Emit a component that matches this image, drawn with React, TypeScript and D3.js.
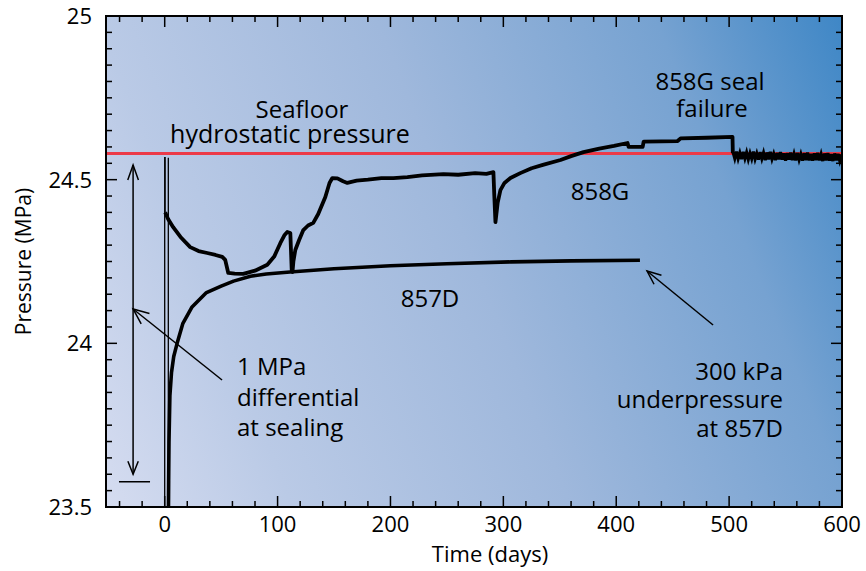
import * as d3 from 'd3'

// axis ticks
const xMajor = [0, 100, 200, 300, 400, 500, 600]
const yMajor = [23.5, 24, 24.5, 25]
const yLabels = ['23.5', '24', '24.5', '25']

const hydrostatic = 24.58

// 858G: thin initial spike, then recovery record [day, MPa]
const g858Spike: [number, number][] = [[0, 23.5], [0, 24.567], [0.4, 24.567], [0.4, 24.4]]
const g858: [number, number][] = [
  [0.4, 24.4], [3, 24.38], [7.5, 24.355], [14, 24.325], [22.6, 24.294], [30, 24.282], [37.7, 24.276],
  [45, 24.27], [51, 24.264], [53.6, 24.255], [56.3, 24.215], [62, 24.213], [69.6, 24.212], [80, 24.222],
  [90.9, 24.24], [97, 24.265], [102.4, 24.306], [106, 24.33], [108.6, 24.34], [111.3, 24.337],
  [112.5, 24.225], [113.2, 24.218], [114, 24.25], [115.7, 24.285], [119, 24.315], [122.8, 24.346],
  [127, 24.36], [131.6, 24.368], [136, 24.395], [142.3, 24.447], [146, 24.49], [148.5, 24.505],
  [153, 24.504], [158, 24.495], [161.8, 24.49], [170, 24.497], [180, 24.5], [192, 24.505],
  [202.6, 24.505], [215, 24.508], [228, 24.513], [246.9, 24.517], [260, 24.515], [275, 24.52],
  [285, 24.518], [291.2, 24.523], [292, 24.45], [293, 24.37], [295, 24.43], [297.4, 24.468],
  [301, 24.49], [306.3, 24.505], [315, 24.52], [325, 24.535], [335, 24.545], [350.6, 24.56],
  [360, 24.572], [371, 24.584], [385, 24.595], [398, 24.603], [410, 24.612], [411, 24.6],
  [423.4, 24.6], [424.3, 24.616], [440, 24.617], [454.4, 24.618], [457, 24.626], [480, 24.628],
  [503, 24.631], [503.3, 24.581],
]
// after seal failure: noisy record around hydrostatic
const g858Fail: [number, number][] = [
  [503.5, 24.584], [505, 24.565], [506.5, 24.586], [508, 24.564], [509.5, 24.582], [511, 24.563],
  [512.5, 24.585], [514, 24.565], [515.5, 24.583], [517, 24.562], [518.5, 24.581], [520, 24.564],
  [521.5, 24.586], [523, 24.563], [524.5, 24.58], [526, 24.561], [527.5, 24.584], [529, 24.564],
  [530.5, 24.582], [532, 24.56], [533.5, 24.583], [535, 24.562], [536.5, 24.585], [538, 24.563],
  [539.5, 24.579], [541, 24.56], [542.5, 24.582], [544, 24.562], [545.5, 24.584], [547, 24.561],
  [548.5, 24.58], [550, 24.558], [551.5, 24.581], [553, 24.561], [554.5, 24.583], [556, 24.56],
  [557.5, 24.579], [559, 24.559], [560.5, 24.582], [562, 24.561], [563.5, 24.578], [565, 24.558],
  [566.5, 24.581], [568, 24.56], [569.5, 24.583], [571, 24.559], [572.5, 24.579], [574, 24.558],
  [575.5, 24.58], [577, 24.56], [578.5, 24.582], [580, 24.559], [581.5, 24.578], [583, 24.557],
  [584.5, 24.58], [586, 24.559], [587.5, 24.581], [589, 24.558], [590.5, 24.578], [592, 24.557],
  [593.5, 24.58], [595, 24.559], [596.5, 24.579], [598, 24.558], [599.5, 24.577],
]

// 857D
const d857Spike: [number, number][] = [[3.2, 24.567], [3.2, 23.5]]
const d857: [number, number][] = [
  [3.3, 23.47], [3.5, 23.58], [3.8, 23.7], [4.6, 23.84], [6, 23.91], [8, 23.96], [11, 24.0],
  [16, 24.06], [24, 24.11], [37, 24.155], [50, 24.175], [61, 24.19], [76, 24.205], [90, 24.212],
  [111, 24.218], [150, 24.228], [200, 24.237], [250, 24.243], [307, 24.249], [360, 24.252], [421, 24.254],
]

const W = 866
const H = 571
const margin = { top: 16, right: 24, bottom: 64, left: 106 }
const FONT = '"Open Sans", "DejaVu Sans", sans-serif'

function head(tip: [number, number], from: [number, number], len = 15, ang = 0.38) {
  const a = Math.atan2(from[1] - tip[1], from[0] - tip[0])
  const p1 = [tip[0] + len * Math.cos(a + ang), tip[1] + len * Math.sin(a + ang)]
  const p2 = [tip[0] + len * Math.cos(a - ang), tip[1] + len * Math.sin(a - ang)]
  return `M${p1[0]},${p1[1]}L${tip[0]},${tip[1]}L${p2[0]},${p2[1]}`
}

export default function App() {
  const x = d3.scaleLinear().domain([-52, 600]).range([margin.left, W - margin.right])
  const y = d3.scaleLinear().domain([23.5, 25]).range([H - margin.bottom, margin.top])
  const [x0, x1] = x.range()
  const [y0, y1] = [y(25), y(23.5)]

  const line = d3.line<[number, number]>().x(d => x(d[0])).y(d => y(d[1]))

  const xMinor = d3.range(-40, 601, 20).filter(v => v % 100 !== 0)
  const yMinor = d3.range(0, 31).map(i => 23.5 + i * 0.05).filter((_, i) => i % 10 !== 0)

  // annotation anchors in data space
  const diffTop: [number, number] = [x(-28), y(24.545)]
  const diffBot: [number, number] = [x(-28), y(23.6)]
  const leftFrom: [number, number] = [x(50.8), y(23.888)]
  const leftTip: [number, number] = [x(-28), y(24.105)]
  const rightFrom: [number, number] = [x(485.8), y(24.056)]
  const rightTip: [number, number] = [x(427.3), y(24.221)]

  const txt = { fontFamily: FONT, fill: '#000' }

  return (
    <svg width={W} height={H} style={{ position: 'absolute', left: 0, top: 0, background: '#fff' }}>
      <defs>
        <linearGradient id="bg" x1="0" y1="1" x2="1.18" y2="0.686">
          <stop offset="0" stopColor="#d5dcf0" />
          <stop offset="0.2" stopColor="#bacae6" />
          <stop offset="0.5" stopColor="#9fb8dc" />
          <stop offset="0.8" stopColor="#76a2d1" />
          <stop offset="1" stopColor="#3f87c6" />
        </linearGradient>
        <clipPath id="plot">
          <rect x={x0} y={y0} width={x1 - x0} height={y1 - y0} />
        </clipPath>
      </defs>

      <rect x={x0} y={y0} width={x1 - x0} height={y1 - y0} fill="url(#bg)" />

      <g clipPath="url(#plot)">
        <line x1={x0} x2={x1} y1={y(hydrostatic)} y2={y(hydrostatic)} stroke="#ec3a48" strokeWidth={3.2} />
        <path d={line(g858Spike)!} fill="none" stroke="#000" strokeWidth={1.3} />
        <path d={line(d857Spike)!} fill="none" stroke="#000" strokeWidth={1.3} />
        <path d={line(g858)!} fill="none" stroke="#000" strokeWidth={3.8} strokeLinejoin="round" />
        <path d={line(g858Fail)!} fill="none" stroke="#000" strokeWidth={3.2} />
        <path d={line(d857)!} fill="none" stroke="#000" strokeWidth={3.6} strokeLinejoin="round" />
      </g>

      {/* annotations */}
      <g stroke="#000" strokeWidth={1.5} fill="none">
        <line x1={diffTop[0]} y1={diffTop[1]} x2={diffBot[0]} y2={diffBot[1]} />
        <path d={head(diffTop, diffBot, 16, 0.34)} />
        <path d={head(diffBot, diffTop, 14, 0.38)} />
        <line x1={x(-40.5)} x2={x(-13)} y1={y(23.577)} y2={y(23.577)} />
        <line x1={leftFrom[0]} y1={leftFrom[1]} x2={leftTip[0]} y2={leftTip[1]} />
        <path d={head(leftTip, leftFrom, 17, 0.4)} />
        <line x1={rightFrom[0]} y1={rightFrom[1]} x2={rightTip[0]} y2={rightTip[1]} />
        <path d={head(rightTip, rightFrom, 15, 0.4)} />
      </g>

      <g style={txt} fontSize={24}>
        <text x={302} y={118} textAnchor="middle">Seafloor</text>
        <text x={290} y={143} textAnchor="middle" fontSize={25}>hydrostatic pressure</text>
        <text x={710} y={90} textAnchor="middle">858G seal</text>
        <text x={712} y={117} textAnchor="middle">failure</text>
        <text x={600} y={200} textAnchor="middle">858G</text>
        <text x={430} y={307} textAnchor="middle">857D</text>
        <text x={237} y={375}>1 MPa</text>
        <text x={237} y={406}>differential</text>
        <text x={237} y={436}>at sealing</text>
        <text x={783} y={380} textAnchor="end">300 kPa</text>
        <text x={783} y={408} textAnchor="end">underpressure</text>
        <text x={783} y={437} textAnchor="end">at 857D</text>
      </g>

      {/* frame and inward ticks */}
      <g stroke="#000" strokeWidth={1.5}>
        {xMajor.map(v => (
          <g key={`xM${v}`}>
            <line x1={x(v)} x2={x(v)} y1={y1} y2={y1 - 11} />
            <line x1={x(v)} x2={x(v)} y1={y0} y2={y0 + 11} />
          </g>
        ))}
        {xMinor.map(v => (
          <g key={`xm${v}`}>
            <line x1={x(v)} x2={x(v)} y1={y1} y2={y1 - 6} />
            <line x1={x(v)} x2={x(v)} y1={y0} y2={y0 + 6} />
          </g>
        ))}
        {yMajor.map(v => (
          <g key={`yM${v}`}>
            <line x1={x0} x2={x0 + 11} y1={y(v)} y2={y(v)} />
            <line x1={x1} x2={x1 - 11} y1={y(v)} y2={y(v)} />
          </g>
        ))}
        {yMinor.map(v => (
          <g key={`ym${v}`}>
            <line x1={x0} x2={x0 + 6} y1={y(v)} y2={y(v)} />
            <line x1={x1} x2={x1 - 6} y1={y(v)} y2={y(v)} />
          </g>
        ))}
      </g>
      <rect x={x0} y={y0} width={x1 - x0} height={y1 - y0} fill="none" stroke="#000" strokeWidth={2} />

      <g style={txt} fontSize={22}>
        {xMajor.map(v => (
          <text key={v} x={x(v)} y={y1 + 25} textAnchor="middle">{v}</text>
        ))}
        {yMajor.map((v, i) => (
          <text key={v} x={x0 - 14} y={y(v) + 8} textAnchor="end">{yLabels[i]}</text>
        ))}
        <text x={490} y={562} textAnchor="middle">Time (days)</text>
        <text transform={`translate(31,${(y0 + y1) / 2}) rotate(-90)`} textAnchor="middle" fontSize={21}>Pressure (MPa)</text>
      </g>
    </svg>
  )
}
